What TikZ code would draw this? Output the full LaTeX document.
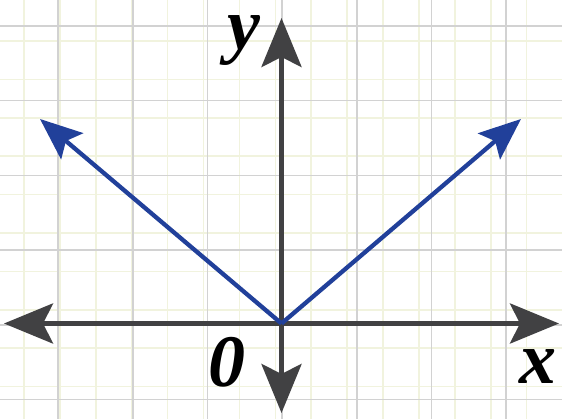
\documentclass[tikz,border=0pt]{standalone}
\usepackage{fontspec}
\setmainfont{Liberation Serif}
\usetikzlibrary{arrows.meta}
\definecolor{axisgray}{HTML}{414143}
\definecolor{vecblue}{HTML}{21409A}
\definecolor{gridmajor}{HTML}{D2D2D2}
\definecolor{gridminor}{HTML}{F1F3DE}
\tikzset{
  axisline/.style={draw=axisgray, line width=5pt, -{Stealth[length=49pt, width=40pt, inset=10pt]}},
  vecline/.style={draw=vecblue, line width=4.3pt, -{Stealth[length=42pt, width=34pt, inset=8pt]}},
  minorline/.style={draw=gridminor, line width=1.6pt},
  majorline/.style={draw=gridmajor, line width=1.6pt},
  lbl/.style={inner sep=0pt, anchor=base, text height=34pt, font=\fontsize{74}{74}\selectfont\bfseries\itshape}
}
\begin{document}
\begin{tikzpicture}[x=1pt, y=-1pt]
\useasboundingbox (0,0) rectangle (562,419);
\fill[white] (0,0) rectangle (562,419);
% minor grid
\foreach \k in {0,...,14} {
  \draw[minorline] ({24+35.9*\k},0) -- ({24+35.9*\k},419);
}
\foreach \k in {0,...,9} {
  \draw[minorline] (0,{41+38.4*\k}) -- (562,{41+38.4*\k});
}
% major grid
\foreach \k in {0,...,6} {
  \draw[majorline] ({58+74.7*\k},0) -- ({58+74.7*\k},419);
}
\foreach \k in {0,...,5} {
  \draw[majorline] (0,{26+74.7*\k}) -- (562,{26+74.7*\k});
}
% coordinates
\coordinate (O) at (281.5,323.5);
\coordinate (xl) at (4,323.5);
\coordinate (xr) at (559,323.5);
\coordinate (yt) at (281.5,18);
\coordinate (yb) at (281.5,413);
\coordinate (bl) at (40,119);
\coordinate (br) at (521,119);
% axes
\draw[axisline] (O) -- (xr);
\draw[axisline] (O) -- (xl);
\draw[axisline] (O) -- (yt);
\draw[axisline] (O) -- (yb);
% vectors
\draw[vecline] (O) -- (bl);
\draw[vecline] (O) -- (br);
% labels
\node[lbl] (ylab) at (244,50) {y};
\node[lbl] (xlab) at (538,384) {x};
\node[lbl, text height=50pt] (olab) at (227,386) {0};
\end{tikzpicture}
\end{document}
